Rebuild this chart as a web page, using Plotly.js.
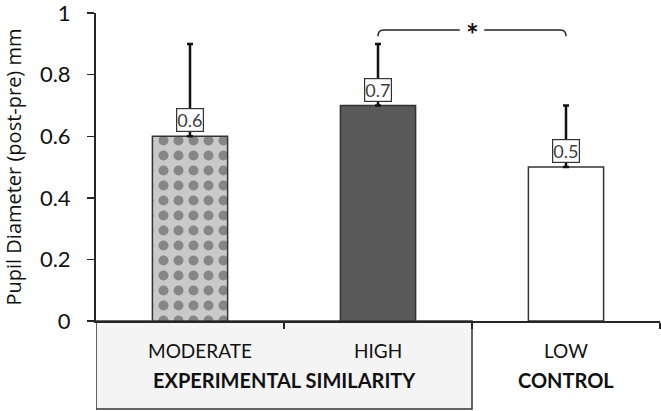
<!DOCTYPE html>
<html>
<head>
<meta charset="utf-8">
<script src="https://cdn.plot.ly/plotly-3.0.1.min.js"></script>
<style>
  html, body { margin: 0; padding: 0; background: #ffffff; }
  #chart { width: 661px; height: 411px; }
</style>
</head>
<body>
<div id="chart"></div>
<script>
// Pupil dilation by similarity condition
const conditions = ['MODERATE', 'HIGH', 'LOW'];
const groups = ['EXPERIMENTAL SIMILARITY', 'CONTROL'];
const groupMembers = [[0, 1], [2]];
const pupilDiameter = [0.6, 0.7, 0.5];
const errorUpper = [0.3, 0.2, 0.2];
const yTicks = [0, 0.2, 0.4, 0.6, 0.8, 1];
const significantPair = [1, 2];
const significanceMark = '*';

const xPos = conditions.map((_, i) => i);
const FONT = 'Lato, "Open Sans", sans-serif';
const TITLE_FONT = '"Open Sans", Lato, sans-serif';
const INK = '#262626';

const bars = {
  type: 'bar',
  x: xPos,
  y: pupilDiameter,
  width: 0.4,
  marker: {
    color: ['#c9c9c9', '#595959', '#ffffff'],
    line: { color: '#333333', width: 1.5 },
    pattern: {
      shape: ['.', '', ''],
      fgcolor: '#b6b6b6',
      bgcolor: '#cdcdcd',
      size: 15,
      solidity: 0.35,
      fillmode: 'overlay'
    }
  },
  error_y: {
    type: 'data',
    symmetric: false,
    array: errorUpper,
    arrayminus: pupilDiameter.map(() => 0),
    color: '#111111',
    thickness: 2.5,
    width: 3
  },
  hoverinfo: 'skip',
  showlegend: false
};

// value labels sitting just above each bar
const valueLabels = conditions.map((_, i) => ({
  x: xPos[i], y: pupilDiameter[i], xref: 'x', yref: 'y',
  text: pupilDiameter[i].toFixed(1),
  showarrow: false, yanchor: 'bottom', yshift: 4,
  font: { family: FONT, size: 18, color: '#404040' },
  bgcolor: '#ffffff', bordercolor: '#333333', borderwidth: 1.2, borderpad: 0
}));

// condition names under the axis
const labelNudge = [0.053, 0, 0];
const conditionLabels = conditions.map((c, i) => ({
  x: xPos[i] + labelNudge[i], y: -0.0965, xref: 'x', yref: 'paper',
  text: c, showarrow: false, yanchor: 'middle',
  font: { family: FONT, size: 19, color: '#111111' }
}));

const groupLabels = groups.map((g, k) => {
  const m = groupMembers[k];
  const cx = (xPos[m[0]] + xPos[m[m.length - 1]]) / 2;
  return {
    x: cx, y: -0.193, xref: 'x', yref: 'paper',
    text: '<b>' + g + '</b>', showarrow: false, yanchor: 'middle',
    font: { family: FONT, size: 20, color: '#111111' }
  };
});

// significance bracket between two bars
const [pa, pb] = significantPair;
const by = 0.945, bEnd = 0.925, r = 0.03, gap = 0.065;
const mid = (pa + pb) / 2;
const bracket = {
  type: 'path', xref: 'x', yref: 'y',
  path: `M ${pa},${bEnd} Q ${pa},${by} ${pa + r},${by} L ${mid - gap},${by} ` +
        `M ${mid + gap},${by} L ${pb - r},${by} Q ${pb},${by} ${pb},${bEnd}`,
  line: { color: '#222222', width: 1.5 }
};
const starLabel = {
  x: mid, y: by, xref: 'x', yref: 'y', text: '<b>' + significanceMark + '</b>',
  showarrow: false, yanchor: 'middle', yshift: -4,
  font: { family: FONT, size: 30, color: '#111111' }
};

// shaded box framing the experimental group's labels
const expBox = {
  type: 'rect', xref: 'x', yref: 'paper',
  x0: xPos[groupMembers[0][0]] - 0.5, x1: xPos[groupMembers[0][groupMembers[0].length - 1]] + 0.5,
  y0: -0.286, y1: 0,
  fillcolor: '#f4f4f4', line: { color: '#333333', width: 1.5 }, layer: 'below'
};

const layout = {
  width: 661, height: 411,
  margin: { l: 96, r: 1, t: 13, b: 90 },
  paper_bgcolor: '#ffffff', plot_bgcolor: '#ffffff',
  bargap: 0.6,
  xaxis: {
    range: [-0.5, xPos.length - 0.5],
    tickvals: xPos.map(v => v + 0.5),
    showticklabels: false,
    ticks: 'outside', ticklen: 6, tickwidth: 1.5, tickcolor: INK,
    showline: true, linecolor: INK, linewidth: 2,
    showgrid: false, zeroline: false, fixedrange: true
  },
  yaxis: {
    range: [0, 1.0005],
    tickvals: yTicks,
    ticktext: yTicks.map(String),
    ticks: 'outside', ticklen: 7, tickwidth: 1.5, tickcolor: INK,
    ticklabelstandoff: 12,
    ticklabeloverflow: 'allow',
    showline: true, linecolor: INK, linewidth: 2,
    showgrid: false, zeroline: false,
    tickfont: { family: FONT, size: 22, color: '#111111' },
    title: { text: 'Pupil Diameter (post-pre) mm', standoff: 14,
             font: { family: TITLE_FONT, size: 20, color: '#111111' } },
    fixedrange: true
  },
  shapes: [expBox, bracket],
  annotations: [...valueLabels, ...conditionLabels, ...groupLabels, starLabel]
};

Plotly.newPlot('chart', [bars], layout, { displayModeBar: false, staticPlot: true });
</script>
</body>
</html>
